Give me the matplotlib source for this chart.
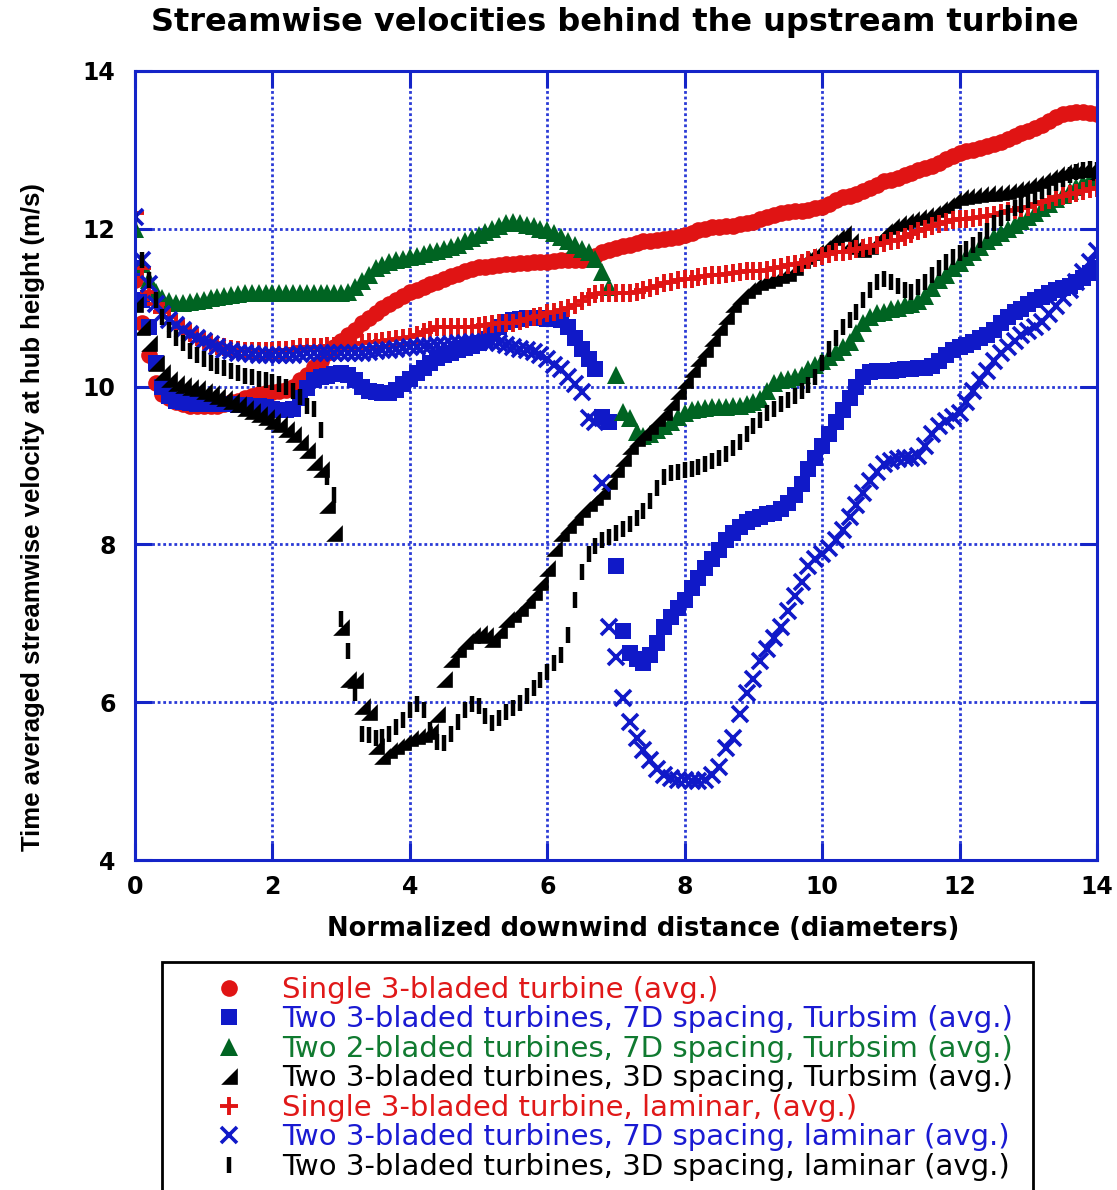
import numpy as np
import matplotlib
matplotlib.use('Agg')
import matplotlib.pyplot as plt

# downwind distance (diameters), sampled every 0.1 D
x = np.round(np.arange(0, 14.05, 0.1), 1)

single_avg = [
    11.35, 10.8, 10.4, 10.05, 9.9, 9.85, 9.8, 9.78, 9.76, 9.75,
    9.75, 9.75, 9.76, 9.78, 9.8, 9.82, 9.85, 9.88, 9.9, 9.92,
    9.93, 9.94, 9.96, 10.0, 10.08, 10.15, 10.25, 10.33, 10.42, 10.5,
    10.58, 10.65, 10.72, 10.8, 10.87, 10.93, 11.0, 11.05, 11.1, 11.15,
    11.2, 11.23, 11.26, 11.3, 11.33, 11.36, 11.4, 11.43, 11.46, 11.49,
    11.51, 11.52, 11.53, 11.54, 11.55, 11.56, 11.57, 11.57, 11.58, 11.58,
    11.58, 11.59, 11.6, 11.6, 11.6, 11.61, 11.63, 11.66, 11.7, 11.73,
    11.76, 11.78, 11.8, 11.82, 11.84, 11.85, 11.86, 11.87, 11.88, 11.9,
    11.92, 11.95, 11.98, 12.0, 12.02, 12.02, 12.03, 12.04, 12.06, 12.07,
    12.09, 12.12, 12.15, 12.18, 12.2, 12.21, 12.22, 12.23, 12.24, 12.26,
    12.28, 12.32, 12.36, 12.4, 12.42, 12.44, 12.48, 12.52, 12.56, 12.6,
    12.62, 12.65, 12.68, 12.71, 12.74, 12.77, 12.8, 12.84, 12.88, 12.92,
    12.96, 12.98, 13.0, 13.02, 13.05, 13.08, 13.1, 13.14, 13.18, 13.21,
    13.24, 13.28, 13.32, 13.37, 13.42, 13.45, 13.47, 13.48, 13.48, 13.47,
    13.45]

two3_7d_turb = [
    11.5, 11.1, 10.75, 10.3, 10.0, 9.88, 9.82, 9.8, 9.79, 9.78,
    9.78, 9.78, 9.78, 9.78, 9.78, 9.77, 9.77, 9.76, 9.75, 9.74,
    9.72, 9.7, 9.7, 9.72, 9.85, 9.98, 10.08, 10.12, 10.14, 10.16,
    10.17, 10.15, 10.08, 10.0, 9.95, 9.93, 9.92, 9.92, 9.96, 10.03,
    10.1, 10.17, 10.24, 10.3, 10.36, 10.4, 10.43, 10.46, 10.49, 10.52,
    10.55, 10.6, 10.68, 10.76, 10.82, 10.85, 10.86, 10.87, 10.87, 10.87,
    10.86, 10.86, 10.85, 10.75, 10.62, 10.48, 10.35, 10.22, 9.62, 9.55,
    7.72, 6.9, 6.62, 6.55, 6.5, 6.6, 6.75, 6.95, 7.08, 7.2,
    7.3, 7.45, 7.58, 7.7, 7.82, 7.93, 8.05, 8.15, 8.22, 8.28,
    8.32, 8.35, 8.38, 8.4, 8.45, 8.52, 8.62, 8.76, 8.95, 9.1,
    9.25, 9.4, 9.55, 9.7, 9.85, 10.0, 10.12, 10.18, 10.2, 10.2,
    10.2, 10.21, 10.22, 10.22, 10.23, 10.24, 10.26, 10.32, 10.4, 10.47,
    10.5, 10.53, 10.57, 10.62, 10.66, 10.72, 10.8, 10.88, 10.94, 10.98,
    11.05, 11.1, 11.14, 11.18, 11.22, 11.25, 11.28, 11.32, 11.38, 11.44,
    11.5]

two2_7d_turb = [
    12.0, 11.55, 11.35, 11.2, 11.12, 11.08, 11.06, 11.06, 11.07, 11.08,
    11.1, 11.12, 11.14, 11.15, 11.16, 11.17, 11.18, 11.18, 11.18, 11.18,
    11.18, 11.18, 11.18, 11.18, 11.18, 11.18, 11.18, 11.18, 11.18, 11.18,
    11.18, 11.2, 11.26, 11.34, 11.42, 11.5, 11.54, 11.58, 11.6, 11.62,
    11.64, 11.66, 11.68, 11.7, 11.72, 11.74, 11.77, 11.8, 11.84, 11.88,
    11.92, 11.96, 12.0, 12.04, 12.07, 12.08, 12.07, 12.05, 12.03, 12.0,
    11.98, 11.95, 11.9, 11.85, 11.8, 11.75, 11.7, 11.62, 11.45, 11.26,
    10.15, 9.68, 9.6, 9.42, 9.38, 9.4, 9.45, 9.5, 9.55, 9.62,
    9.66, 9.7, 9.72, 9.73, 9.74, 9.74, 9.74, 9.75, 9.76, 9.78,
    9.8, 9.84, 9.95, 10.05, 10.08, 10.1, 10.12, 10.15, 10.22, 10.28,
    10.33, 10.38, 10.44, 10.5, 10.56, 10.68, 10.8, 10.88, 10.93, 10.95,
    10.98, 11.0, 11.03, 11.05, 11.08, 11.15, 11.25, 11.35, 11.42, 11.5,
    11.57, 11.64, 11.7, 11.77, 11.84, 11.9, 11.95, 12.0, 12.05, 12.1,
    12.15, 12.2, 12.26, 12.32, 12.38, 12.43, 12.48, 12.53, 12.58, 12.62,
    12.65]

two3_3d_turb = [
    11.05, 10.75, 10.55, 10.3, 10.18, 10.1, 10.05, 10.02, 10.0, 9.98,
    9.95, 9.92, 9.88, 9.85, 9.82, 9.78, 9.73, 9.69, 9.65, 9.61,
    9.57, 9.52, 9.46, 9.4, 9.3, 9.2, 9.05, 8.95, 8.5, 8.15,
    6.95, 6.3, 6.28, 5.95, 5.88, 5.45, 5.32, 5.4, 5.45, 5.5,
    5.55, 5.57, 5.6, 5.63, 5.85, 6.3, 6.55, 6.68, 6.78, 6.85,
    6.88, 6.85, 6.8, 6.92, 7.05, 7.12, 7.2, 7.3, 7.4, 7.52,
    7.7, 7.95, 8.14, 8.25, 8.35, 8.45, 8.52, 8.6, 8.68, 8.8,
    8.95, 9.1, 9.25, 9.35, 9.42, 9.5, 9.6, 9.68, 9.8, 9.95,
    10.08, 10.22, 10.36, 10.48, 10.62, 10.76, 10.9, 11.05, 11.15, 11.22,
    11.28, 11.32, 11.35, 11.38, 11.41, 11.44, 11.52, 11.6, 11.65, 11.7,
    11.76, 11.83, 11.9, 11.95, 11.85, 11.78, 11.74, 11.78, 11.88, 11.97,
    12.03, 12.07, 12.1, 12.13, 12.15, 12.18, 12.2, 12.25, 12.3, 12.36,
    12.4, 12.42, 12.43, 12.44, 12.45, 12.46, 12.47, 12.48, 12.5, 12.52,
    12.55, 12.58, 12.62, 12.66, 12.7, 12.72, 12.74, 12.75, 12.76, 12.76,
    12.72]

single_lam = [
    12.2, 11.5, 11.2, 11.05, 10.95, 10.88, 10.8, 10.74, 10.68, 10.63,
    10.58, 10.55, 10.52, 10.5, 10.48, 10.46, 10.45, 10.45, 10.45, 10.45,
    10.45, 10.46, 10.47, 10.48, 10.5, 10.5, 10.5, 10.5, 10.51, 10.52,
    10.52, 10.53, 10.54, 10.55, 10.56, 10.57, 10.58, 10.59, 10.6, 10.62,
    10.63, 10.66, 10.69, 10.72, 10.75, 10.76, 10.76, 10.76, 10.76, 10.76,
    10.77, 10.78, 10.79, 10.8, 10.8, 10.81, 10.83, 10.86, 10.88, 10.9,
    10.93, 10.95, 10.97, 11.0, 11.04, 11.08, 11.13, 11.17, 11.19, 11.19,
    11.19, 11.19, 11.19, 11.2, 11.22, 11.25, 11.28, 11.31, 11.33, 11.35,
    11.36, 11.37, 11.39, 11.4, 11.41, 11.42, 11.43, 11.44, 11.45, 11.46,
    11.46, 11.47, 11.48, 11.5, 11.52, 11.54, 11.56, 11.57, 11.6, 11.63,
    11.66, 11.68, 11.7, 11.71, 11.72, 11.74, 11.76, 11.78, 11.8, 11.82,
    11.84, 11.86, 11.89, 11.93, 11.97, 12.0, 12.03, 12.06, 12.09, 12.11,
    12.12, 12.13, 12.14, 12.15, 12.16, 12.18, 12.2, 12.22, 12.24, 12.26,
    12.28, 12.31, 12.34, 12.37, 12.4, 12.42, 12.44, 12.46, 12.48, 12.5,
    12.52]

two3_7d_lam = [
    12.15, 11.6, 11.3, 11.05, 10.92, 10.85, 10.78, 10.72, 10.67, 10.62,
    10.58, 10.54, 10.5, 10.47, 10.45, 10.43, 10.42, 10.41, 10.4, 10.4,
    10.4, 10.4, 10.4, 10.4, 10.41, 10.42, 10.42, 10.42, 10.42, 10.42,
    10.42, 10.42, 10.43, 10.43, 10.44, 10.45, 10.46, 10.47, 10.48, 10.49,
    10.5, 10.5, 10.51, 10.52, 10.53, 10.53, 10.54, 10.55, 10.55, 10.56,
    10.56, 10.56, 10.56, 10.55, 10.53, 10.5, 10.48, 10.46, 10.44, 10.4,
    10.35, 10.28, 10.22, 10.12, 10.03, 9.93, 9.6, 9.55, 8.78, 6.95,
    6.57, 6.05, 5.75, 5.55, 5.4, 5.27, 5.15, 5.08, 5.04, 5.02,
    5.01, 5.0, 5.0, 5.02, 5.08, 5.18, 5.42, 5.55, 5.85, 6.12,
    6.3, 6.52, 6.68, 6.82, 6.95, 7.15, 7.35, 7.52, 7.72, 7.82,
    7.88, 7.95, 8.05, 8.18, 8.35, 8.5, 8.65, 8.8, 8.92, 9.02,
    9.06, 9.08, 9.09, 9.1, 9.12, 9.25, 9.4, 9.5, 9.57, 9.62,
    9.67, 9.8, 9.95, 10.08, 10.2, 10.32, 10.43, 10.5, 10.58, 10.65,
    10.7, 10.75, 10.82, 10.92, 11.02, 11.12, 11.22, 11.32, 11.45, 11.58,
    11.72]

two3_3d_lam = [
    12.1, 11.6, 11.35, 11.1, 10.88, 10.72, 10.62, 10.55, 10.45, 10.4,
    10.35, 10.3, 10.26, 10.23, 10.2, 10.17, 10.14, 10.12, 10.1, 10.08,
    10.06, 10.03, 10.0, 9.95, 9.87, 9.75, 9.72, 9.45, 8.85, 8.62,
    7.05, 6.65, 6.12, 5.6, 5.58, 5.55, 5.56, 5.6, 5.68, 5.78,
    5.9, 5.98, 5.9, 5.65, 5.5, 5.48, 5.6, 5.75, 5.9, 5.98,
    5.95, 5.82, 5.74, 5.8, 5.87, 5.93, 5.99, 6.08, 6.18, 6.28,
    6.38, 6.5, 6.6, 6.85, 7.3, 7.65, 7.88, 7.98, 8.05, 8.1,
    8.14, 8.2, 8.26, 8.33, 8.42, 8.55, 8.72, 8.86, 8.9, 8.92,
    8.94, 8.96, 8.98, 9.02, 9.06, 9.1, 9.15, 9.22, 9.3, 9.4,
    9.5, 9.58, 9.66, 9.72, 9.78, 9.83, 9.88, 9.94, 10.02, 10.12,
    10.3, 10.48, 10.62, 10.75, 10.85, 10.95, 11.1, 11.22, 11.32, 11.36,
    11.32, 11.27, 11.22, 11.2, 11.26, 11.33, 11.42, 11.5, 11.58, 11.64,
    11.69, 11.74, 11.8, 11.86, 11.97, 12.07, 12.14, 12.2, 12.26, 12.3,
    12.36, 12.42, 12.48, 12.53, 12.58, 12.63, 12.68, 12.72, 12.75, 12.76,
    12.75]

labels = [
    'Single 3-bladed turbine (avg.)',
    'Two 3-bladed turbines, 7D spacing, Turbsim (avg.)',
    'Two 2-bladed turbines, 7D spacing, Turbsim (avg.)',
    'Two 3-bladed turbines, 3D spacing, Turbsim (avg.)',
    'Single 3-bladed turbine, laminar, (avg.)',
    'Two 3-bladed turbines, 7D spacing, laminar (avg.)',
    'Two 3-bladed turbines, 3D spacing, laminar (avg.)',
]

RED = '#e01414'
BLUE = '#1019c8'
GREEN = '#006422'
BLACK = '#000000'
text_colors = ['#e01818', '#1a1ad2', '#107a30', BLACK, '#e01818', '#1a1ad2', BLACK]

half_tri = [(-1, -1), (1, -1), (1, 1), (-1, -1)]

styles = [
    dict(marker='o', color=RED, ms=12, mew=0),
    dict(marker='s', color=BLUE, ms=11, mew=0),
    dict(marker='^', color=GREEN, ms=12.5, mew=0),
    dict(marker=half_tri, color=BLACK, ms=12, mew=0),
    dict(marker='+', color=RED, ms=12.5, mew=2.8),
    dict(marker='x', color=BLUE, ms=11, mew=2.6),
    dict(marker='|', color=BLACK, ms=11, mew=3.2),
]
series = [single_avg, two3_7d_turb, two2_7d_turb, two3_3d_turb,
          single_lam, two3_7d_lam, two3_3d_lam]

fig = plt.figure(figsize=(11.17, 11.9), dpi=100)
ax = fig.add_axes([135 / 1117, 1 - 860 / 1190, 962 / 1117, 789 / 1190])

handles = []
for y, st, lab in zip(series, styles, labels):
    h, = ax.plot(x, y, linestyle='none', label=lab, **st)
    handles.append(h)

ax.set_xlim(0, 14)
ax.set_ylim(4, 14)
ax.set_xticks(range(0, 15, 2))
ax.set_yticks(range(4, 15, 2))

axis_blue = '#1424c8'
for sp in ax.spines.values():
    sp.set_color(axis_blue)
    sp.set_linewidth(2.2)
ax.grid(True, color='#2a3ad6', linestyle=(0, (1, 1)), linewidth=2.0)
ax.tick_params(direction='in', length=12, width=2.2, color=axis_blue,
               top=True, right=True, labelsize=17, pad=14)
for lbl in ax.get_xticklabels() + ax.get_yticklabels():
    lbl.set_fontweight('bold')
ax.tick_params(axis='x', pad=11)

ax.set_xlabel('Normalized downwind distance (diameters)',
              fontsize=18.5, fontweight='bold', family='DejaVu Sans')
ax.xaxis.set_label_coords(0.528, -0.071)
ax.set_ylabel('Time averaged streamwise velocity at hub height (m/s)',
              fontsize=18.5, fontweight='bold', family='Liberation Sans')
ax.yaxis.set_label_coords(-0.094, 0.435)

fig.text(0.55, 0.9815, 'Streamwise velocities behind the upstream turbine',
         ha='center', va='center', fontsize=23, fontweight='bold')

leg = fig.legend(handles, labels, loc='upper left',
                 bbox_to_anchor=(162 / 1117, 1 - 962 / 1190, (1033 - 162) / 1117, 0),
                 mode='expand', numpoints=1, fontsize=21, frameon=True,
                 fancybox=False, framealpha=1, edgecolor='black',
                 handlelength=3.6, handletextpad=0.03, labelspacing=0.05,
                 borderpad=0.48, borderaxespad=0)
leg.get_frame().set_linewidth(2)
for t, c in zip(leg.get_texts(), text_colors):
    t.set_color(c)

fig.savefig('out.png', dpi=100)
